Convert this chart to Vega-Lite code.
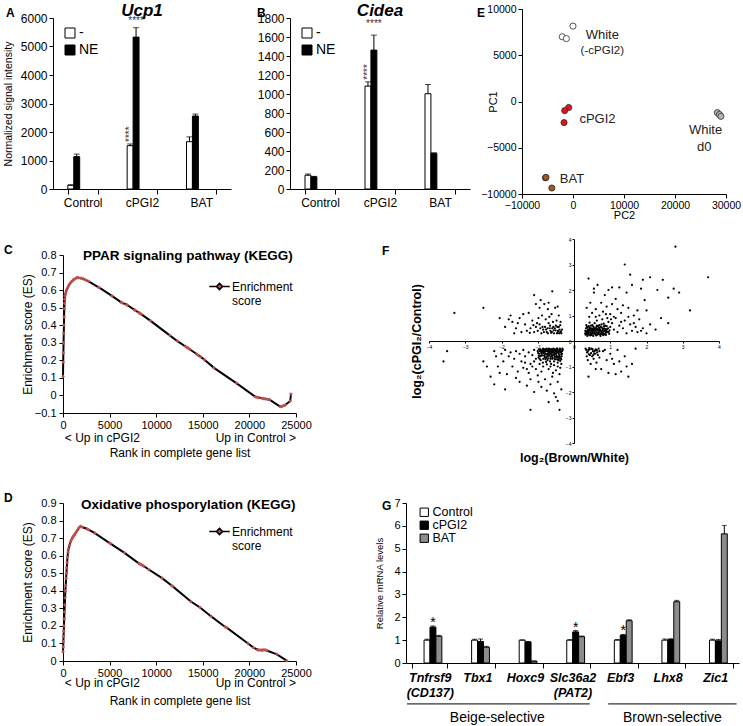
{
"$schema": "https://vega.github.io/schema/vega-lite/v6.json",
"padding": {"left": 3, "top": 1, "right": 2, "bottom": 1},
"config": {
 "font": "Liberation Sans",
 "view": {"stroke": null},
 "axis": {"grid": false, "domainColor": "black", "tickColor": "black", "labelColor": "black", "titleColor": "black", "titleFontWeight": "normal", "labelFontSize": 11, "titleFontSize": 11, "tickSize": 4, "labelPadding": 2, "titlePadding": 4, "labelFlush": false, "labelOverlap": false},
 "legend": {"labelColor": "black"},
 "text": {"color": "black"}
},
"datasets": {
 "a": [
  {"cat": "Control", "trt": "-", "val": 130, "hi": 150},
  {"cat": "Control", "trt": "NE", "val": 1135, "hi": 1225},
  {"cat": "cPGI2", "trt": "-", "val": 1520, "hi": 1580},
  {"cat": "cPGI2", "trt": "NE", "val": 5330, "hi": 5660},
  {"cat": "BAT", "trt": "-", "val": 1660, "hi": 1830},
  {"cat": "BAT", "trt": "NE", "val": 2560, "hi": 2630}],
 "b": [
  {"cat": "Control", "trt": "-", "val": 145, "hi": 158},
  {"cat": "Control", "trt": "NE", "val": 128, "hi": 133},
  {"cat": "cPGI2", "trt": "-", "val": 1083, "hi": 1128},
  {"cat": "cPGI2", "trt": "NE", "val": 1462, "hi": 1620},
  {"cat": "BAT", "trt": "-", "val": 1003, "hi": 1100},
  {"cat": "BAT", "trt": "NE", "val": 375, "hi": 381}],
 "g": [
  {"gene": "Tnfrsf9 (CD137)", "grp": "Control", "val": 1.0, "hi": 1.04},
  {"gene": "Tnfrsf9 (CD137)", "grp": "cPGI2", "val": 1.57, "hi": 1.62},
  {"gene": "Tnfrsf9 (CD137)", "grp": "BAT", "val": 1.17, "hi": 1.21},
  {"gene": "Tbx1", "grp": "Control", "val": 1.0, "hi": 1.04},
  {"gene": "Tbx1", "grp": "cPGI2", "val": 0.94, "hi": 1.05},
  {"gene": "Tbx1", "grp": "BAT", "val": 0.69, "hi": 0.73},
  {"gene": "Hoxc9", "grp": "Control", "val": 1.0, "hi": 1.01},
  {"gene": "Hoxc9", "grp": "cPGI2", "val": 0.92, "hi": 0.94},
  {"gene": "Hoxc9", "grp": "BAT", "val": 0.08, "hi": 0.09},
  {"gene": "Slc36a2 (PAT2)", "grp": "Control", "val": 1.0, "hi": 1.02},
  {"gene": "Slc36a2 (PAT2)", "grp": "cPGI2", "val": 1.36, "hi": 1.42},
  {"gene": "Slc36a2 (PAT2)", "grp": "BAT", "val": 1.15, "hi": 1.18},
  {"gene": "Ebf3", "grp": "Control", "val": 1.0, "hi": 1.03},
  {"gene": "Ebf3", "grp": "cPGI2", "val": 1.22, "hi": 1.25},
  {"gene": "Ebf3", "grp": "BAT", "val": 1.85, "hi": 1.89},
  {"gene": "Lhx8", "grp": "Control", "val": 1.0, "hi": 1.05},
  {"gene": "Lhx8", "grp": "cPGI2", "val": 1.03, "hi": 1.06},
  {"gene": "Lhx8", "grp": "BAT", "val": 2.68, "hi": 2.74},
  {"gene": "Zic1", "grp": "Control", "val": 1.0, "hi": 1.04},
  {"gene": "Zic1", "grp": "cPGI2", "val": 0.97, "hi": 1.03},
  {"gene": "Zic1", "grp": "BAT", "val": 5.65, "hi": 6.02}]
},
"vconcat": [
 {"hconcat": [
 {"hconcat": [
  {"width": 168, "height": 171,
   "layer": [
    {"layer": [
     {"data": {"name": "a"}, "mark": {"type": "bar", "stroke": "black", "strokeWidth": 1},
      "encoding": {
       "x": {"field": "cat", "type": "nominal", "scale": {"domain": ["Control", "cPGI2", "BAT"], "paddingInner": 0.5, "paddingOuter": 0.25, "range": [-10, 168]}, "axis": {"title": null, "labelAngle": 0, "labelFontSize": 12, "tickBand": "extent", "tickSize": 5, "labelPadding": 3}},
       "xOffset": {"field": "trt", "type": "nominal", "scale": {"domain": ["-", "NE"]}},
       "y": {"field": "val", "type": "quantitative", "scale": {"domain": [0, 6000], "nice": false}, "axis": {"values": [0, 1000, 2000, 3000, 4000, 5000, 6000], "format": "d", "offset": 10, "title": "Normalized signal intensity", "titleFontSize": 10.5, "labelFontSize": 12, "titleX": -40, "titleY": 85.5}},
       "fill": {"field": "trt", "type": "nominal", "scale": {"domain": ["-", "NE"], "range": ["white", "black"]}, "legend": {"title": null, "orient": "none", "legendX": 0, "legendY": 8, "symbolType": "square", "symbolSize": 100, "symbolStrokeColor": "black", "symbolStrokeWidth": 1, "labelFontSize": 14, "rowPadding": 3, "labelOffset": 2}}}},
     {"data": {"name": "a"}, "mark": {"type": "rule", "color": "black", "strokeWidth": 1},
      "encoding": {
       "x": {"field": "cat", "type": "nominal", "scale": {"domain": ["Control", "cPGI2", "BAT"], "paddingInner": 0.5, "paddingOuter": 0.25, "range": [-10, 168]}, "axis": {"title": null, "labelAngle": 0, "labelFontSize": 12, "tickBand": "extent", "tickSize": 5, "labelPadding": 3}},
       "xOffset": {"field": "trt", "type": "nominal", "scale": {"domain": ["-", "NE"]}},
       "y": {"field": "val", "type": "quantitative", "scale": {"domain": [0, 6000], "nice": false}, "axis": {"values": [0, 1000, 2000, 3000, 4000, 5000, 6000], "format": "d", "offset": 10, "title": "Normalized signal intensity", "titleFontSize": 10.5, "labelFontSize": 12, "titleX": -40, "titleY": 85.5}},
       "y2": {"field": "hi"}}},
     {"data": {"name": "a"}, "mark": {"type": "tick", "color": "black", "thickness": 1, "size": 6},
      "encoding": {
       "x": {"field": "cat", "type": "nominal", "scale": {"domain": ["Control", "cPGI2", "BAT"], "paddingInner": 0.5, "paddingOuter": 0.25, "range": [-10, 168]}, "axis": {"title": null, "labelAngle": 0, "labelFontSize": 12, "tickBand": "extent", "tickSize": 5, "labelPadding": 3}},
       "xOffset": {"field": "trt", "type": "nominal", "scale": {"domain": ["-", "NE"]}},
       "y": {"field": "hi", "type": "quantitative", "scale": {"domain": [0, 6000], "nice": false}, "axis": {"values": [0, 1000, 2000, 3000, 4000, 5000, 6000], "format": "d", "offset": 10, "title": "Normalized signal intensity", "titleFontSize": 10.5, "labelFontSize": 12, "titleX": -40, "titleY": 85.5}}}},
     {"data": {"values": [{"cat": "cPGI2", "trt": "-", "y": 1650, "t": "****"}]},
      "mark": {"type": "text", "angle": 270, "align": "left", "baseline": "middle", "fontSize": 10, "color": "#333"},
      "encoding": {
       "x": {"field": "cat", "type": "nominal", "scale": {"domain": ["Control", "cPGI2", "BAT"], "paddingInner": 0.5, "paddingOuter": 0.25, "range": [-10, 168]}, "axis": {"title": null, "labelAngle": 0, "labelFontSize": 12, "tickBand": "extent", "tickSize": 5, "labelPadding": 3}},
       "xOffset": {"field": "trt", "type": "nominal", "scale": {"domain": ["-", "NE"]}},
       "y": {"field": "y", "type": "quantitative", "scale": {"domain": [0, 6000], "nice": false}, "axis": {"values": [0, 1000, 2000, 3000, 4000, 5000, 6000], "format": "d", "offset": 10, "title": "Normalized signal intensity", "titleFontSize": 10.5, "labelFontSize": 12, "titleX": -40, "titleY": 85.5}},
       "text": {"field": "t"}}},
     {"data": {"values": [{"cat": "cPGI2", "trt": "NE", "y": 5720, "t": "****"}]},
      "mark": {"type": "text", "align": "center", "baseline": "bottom", "fontSize": 10, "color": "#333"},
      "encoding": {
       "x": {"field": "cat", "type": "nominal", "scale": {"domain": ["Control", "cPGI2", "BAT"], "paddingInner": 0.5, "paddingOuter": 0.25, "range": [-10, 168]}, "axis": {"title": null, "labelAngle": 0, "labelFontSize": 12, "tickBand": "extent", "tickSize": 5, "labelPadding": 3}},
       "xOffset": {"field": "trt", "type": "nominal", "scale": {"domain": ["-", "NE"]}},
       "y": {"field": "y", "type": "quantitative", "scale": {"domain": [0, 6000], "nice": false}, "axis": {"values": [0, 1000, 2000, 3000, 4000, 5000, 6000], "format": "d", "offset": 10, "title": "Normalized signal intensity", "titleFontSize": 10.5, "labelFontSize": 12, "titleX": -40, "titleY": 85.5}},
       "text": {"field": "t"}}},
     {"data": {"values": [{"cat": "cPGI2", "y": 6250, "t": "Ucp1"}]},
      "mark": {"type": "text", "align": "center", "baseline": "middle", "fontSize": 17, "fontWeight": "bold", "fontStyle": "italic"},
      "encoding": {
       "x": {"field": "cat", "type": "nominal", "scale": {"domain": ["Control", "cPGI2", "BAT"], "paddingInner": 0.5, "paddingOuter": 0.25, "range": [-10, 168]}, "axis": {"title": null, "labelAngle": 0, "labelFontSize": 12, "tickBand": "extent", "tickSize": 5, "labelPadding": 3}},
       "y": {"field": "y", "type": "quantitative", "scale": {"domain": [0, 6000], "nice": false}, "axis": {"values": [0, 1000, 2000, 3000, 4000, 5000, 6000], "format": "d", "offset": 10, "title": "Normalized signal intensity", "titleFontSize": 10.5, "labelFontSize": 12, "titleX": -40, "titleY": 85.5}},
       "text": {"field": "t"}}}
    ]},
    {"data": {"values": [{"px": -0.339, "y": 6175, "t": "A"}]},
     "mark": {"type": "text", "align": "left", "baseline": "middle", "fontSize": 12, "fontWeight": "bold"},
     "encoding": {
      "x": {"field": "px", "type": "quantitative", "scale": {"domain": [0, 1], "nice": false}, "axis": null},
      "y": {"field": "y", "type": "quantitative", "scale": {"domain": [0, 6000], "nice": false}, "axis": {"values": [0, 1000, 2000, 3000, 4000, 5000, 6000], "format": "d", "offset": 10, "title": "Normalized signal intensity", "titleFontSize": 10.5, "labelFontSize": 12, "titleX": -40, "titleY": 85.5}},
      "text": {"field": "t"}}}
   ],
   "resolve": {"scale": {"x": "independent"}}},
  {"width": 180, "height": 171,
   "layer": [
    {"layer": [
     {"data": {"name": "b"}, "mark": {"type": "bar", "stroke": "black", "strokeWidth": 1},
      "encoding": {
       "x": {"field": "cat", "type": "nominal", "scale": {"domain": ["Control", "cPGI2", "BAT"], "paddingInner": 0.5, "paddingOuter": 0.25}, "axis": {"title": null, "labelAngle": 0, "labelFontSize": 12, "tickBand": "extent", "tickSize": 5, "labelPadding": 3}},
       "xOffset": {"field": "trt", "type": "nominal", "scale": {"domain": ["-", "NE"]}},
       "y": {"field": "val", "type": "quantitative", "scale": {"domain": [0, 1800], "nice": false}, "axis": {"values": [0, 200, 400, 600, 800, 1000, 1200, 1400, 1600, 1800], "format": "d", "title": null, "labelFontSize": 12}},
       "fill": {"field": "trt", "type": "nominal", "scale": {"domain": ["-", "NE"], "range": ["white", "black"]}, "legend": {"title": null, "orient": "none", "legendX": 10, "legendY": 8, "symbolType": "square", "symbolSize": 100, "symbolStrokeColor": "black", "symbolStrokeWidth": 1, "labelFontSize": 14, "rowPadding": 3, "labelOffset": 2}}}},
     {"data": {"name": "b"}, "mark": {"type": "rule", "color": "black", "strokeWidth": 1},
      "encoding": {
       "x": {"field": "cat", "type": "nominal", "scale": {"domain": ["Control", "cPGI2", "BAT"], "paddingInner": 0.5, "paddingOuter": 0.25}, "axis": {"title": null, "labelAngle": 0, "labelFontSize": 12, "tickBand": "extent", "tickSize": 5, "labelPadding": 3}},
       "xOffset": {"field": "trt", "type": "nominal", "scale": {"domain": ["-", "NE"]}},
       "y": {"field": "val", "type": "quantitative", "scale": {"domain": [0, 1800], "nice": false}, "axis": {"values": [0, 200, 400, 600, 800, 1000, 1200, 1400, 1600, 1800], "format": "d", "title": null, "labelFontSize": 12}},
       "y2": {"field": "hi"}}},
     {"data": {"name": "b"}, "mark": {"type": "tick", "color": "black", "thickness": 1, "size": 6},
      "encoding": {
       "x": {"field": "cat", "type": "nominal", "scale": {"domain": ["Control", "cPGI2", "BAT"], "paddingInner": 0.5, "paddingOuter": 0.25}, "axis": {"title": null, "labelAngle": 0, "labelFontSize": 12, "tickBand": "extent", "tickSize": 5, "labelPadding": 3}},
       "xOffset": {"field": "trt", "type": "nominal", "scale": {"domain": ["-", "NE"]}},
       "y": {"field": "hi", "type": "quantitative", "scale": {"domain": [0, 1800], "nice": false}, "axis": {"values": [0, 200, 400, 600, 800, 1000, 1200, 1400, 1600, 1800], "format": "d", "title": null, "labelFontSize": 12}}}},
     {"data": {"values": [{"cat": "cPGI2", "trt": "-", "y": 1150, "t": "****"}]},
      "mark": {"type": "text", "angle": 270, "align": "left", "baseline": "middle", "fontSize": 10, "color": "#333"},
      "encoding": {
       "x": {"field": "cat", "type": "nominal", "scale": {"domain": ["Control", "cPGI2", "BAT"], "paddingInner": 0.5, "paddingOuter": 0.25}, "axis": {"title": null, "labelAngle": 0, "labelFontSize": 12, "tickBand": "extent", "tickSize": 5, "labelPadding": 3}},
       "xOffset": {"field": "trt", "type": "nominal", "scale": {"domain": ["-", "NE"]}},
       "y": {"field": "y", "type": "quantitative", "scale": {"domain": [0, 1800], "nice": false}, "axis": {"values": [0, 200, 400, 600, 800, 1000, 1200, 1400, 1600, 1800], "format": "d", "title": null, "labelFontSize": 12}},
       "text": {"field": "t"}}},
     {"data": {"values": [{"cat": "cPGI2", "trt": "NE", "y": 1680, "t": "****"}]},
      "mark": {"type": "text", "align": "center", "baseline": "bottom", "fontSize": 10, "color": "#333"},
      "encoding": {
       "x": {"field": "cat", "type": "nominal", "scale": {"domain": ["Control", "cPGI2", "BAT"], "paddingInner": 0.5, "paddingOuter": 0.25}, "axis": {"title": null, "labelAngle": 0, "labelFontSize": 12, "tickBand": "extent", "tickSize": 5, "labelPadding": 3}},
       "xOffset": {"field": "trt", "type": "nominal", "scale": {"domain": ["-", "NE"]}},
       "y": {"field": "y", "type": "quantitative", "scale": {"domain": [0, 1800], "nice": false}, "axis": {"values": [0, 200, 400, 600, 800, 1000, 1200, 1400, 1600, 1800], "format": "d", "title": null, "labelFontSize": 12}},
       "text": {"field": "t"}}},
     {"data": {"values": [{"cat": "cPGI2", "y": 1875, "t": "Cidea"}]},
      "mark": {"type": "text", "align": "center", "baseline": "middle", "fontSize": 17, "fontWeight": "bold", "fontStyle": "italic"},
      "encoding": {
       "x": {"field": "cat", "type": "nominal", "scale": {"domain": ["Control", "cPGI2", "BAT"], "paddingInner": 0.5, "paddingOuter": 0.25}, "axis": {"title": null, "labelAngle": 0, "labelFontSize": 12, "tickBand": "extent", "tickSize": 5, "labelPadding": 3}},
       "y": {"field": "y", "type": "quantitative", "scale": {"domain": [0, 1800], "nice": false}, "axis": {"values": [0, 200, 400, 600, 800, 1000, 1200, 1400, 1600, 1800], "format": "d", "title": null, "labelFontSize": 12}},
       "text": {"field": "t"}}}
    ]},
    {"data": {"values": [{"px": -0.183, "y": 1853, "t": "B"}]},
     "mark": {"type": "text", "align": "left", "baseline": "middle", "fontSize": 12, "fontWeight": "bold"},
     "encoding": {
      "x": {"field": "px", "type": "quantitative", "scale": {"domain": [0, 1], "nice": false}, "axis": null},
      "y": {"field": "y", "type": "quantitative", "scale": {"domain": [0, 1800], "nice": false}, "axis": {"values": [0, 200, 400, 600, 800, 1000, 1200, 1400, 1600, 1800], "format": "d", "title": null, "labelFontSize": 12}},
      "text": {"field": "t"}}}
   ],
   "resolve": {"scale": {"x": "independent"}}}
 ], "spacing": 16, "resolve": {"scale": {"fill": "independent"}}},
  {"width": 204, "height": 176,
   "encoding": {
    "x": {"field": "pc2", "type": "quantitative", "scale": {"domain": [-10000, 30000], "nice": false}, "axis": {"values": [-10000, 0, 10000, 20000, 30000], "format": "d", "title": "PC2", "titleY": 15, "labelFontSize": 10.5, "titleFontSize": 11}},
    "y": {"field": "pc1", "type": "quantitative", "scale": {"domain": [-10000, 10000], "nice": false, "range": [176, -9]}, "axis": {"values": [-10000, -5000, 0, 5000, 10000], "format": "d", "title": "PC1", "titleX": -24, "titleY": 83.5, "labelFontSize": 10.5, "titleFontSize": 11}}
   },
   "layer": [
    {"data": {"values": [
      {"g": "white", "pc2": -2100, "pc1": 7000}, {"g": "white", "pc2": -1300, "pc1": 6800}, {"g": "white", "pc2": 0, "pc1": 8150},
      {"g": "red", "pc2": -850, "pc1": -650}, {"g": "red", "pc2": -1630, "pc1": -980}, {"g": "red", "pc2": -1760, "pc1": -2280},
      {"g": "gray", "pc2": 28300, "pc1": -1200}, {"g": "gray", "pc2": 28700, "pc1": -1400}, {"g": "gray", "pc2": 29000, "pc1": -1600},
      {"g": "brown", "pc2": -5400, "pc1": -8250}, {"g": "brown", "pc2": -5300, "pc1": -8200}, {"g": "brown", "pc2": -4150, "pc1": -9350}]},
     "mark": {"type": "point", "filled": true, "size": 38, "stroke": "#2b2b2b", "strokeWidth": 0.8, "opacity": 1},
     "encoding": {
      "fill": {"field": "g", "type": "nominal", "scale": {"domain": ["white", "red", "gray", "brown"], "range": ["#ffffff", "#e3141c", "#b5b5b5", "#a0561f"]}, "legend": null}}},
    {"data": {"values": [
      {"pc2": 5750, "pc1": 7220, "t": "White"}, {"pc2": 4800, "pc1": -1890, "t": "cPGI2"},
      {"pc2": 25980, "pc1": -3050, "t": "White"}, {"pc2": 25750, "pc1": -4870, "t": "d0"},
      {"pc2": -200, "pc1": -8380, "t": "BAT"}]},
     "mark": {"type": "text", "align": "center", "baseline": "middle", "fontSize": 13, "color": "#222"},
     "encoding": {"text": {"field": "t"}}},
    {"data": {"values": [{"pc2": 5750, "pc1": 5420, "t": "(-cPGI2)"}]},
     "mark": {"type": "text", "align": "center", "baseline": "middle", "fontSize": 11.5, "color": "#222"},
     "encoding": {"text": {"field": "t"}}},
    {"data": {"values": [{"pc2": -18820, "pc1": 9570, "t": "E"}]},
     "mark": {"type": "text", "align": "left", "baseline": "middle", "fontSize": 12, "fontWeight": "bold"},
     "encoding": {"text": {"field": "t"}}}
   ]}
 ], "spacing": 7, "resolve": {"scale": {"fill": "independent"}}},
 {"vconcat": [
  {"hconcat": [
   {"width": 233, "height": 158,
    "encoding": {
     "x": {"field": "rank", "type": "quantitative", "scale": {"domain": [0, 25000], "nice": false}, "axis": {"values": [0, 5000, 10000, 15000, 20000, 25000], "format": "d", "title": "Rank in complete gene list", "titleFontSize": 12, "titleY": 34, "labelFontSize": 11}},
     "y": {"field": "es", "type": "quantitative", "scale": {"domain": [-0.1, 0.8], "nice": false, "zero": false}, "axis": {"values": [-0.1, 0, 0.1, 0.2, 0.3, 0.4, 0.5, 0.6, 0.7, 0.8], "format": ".1~f", "title": "Enrichment score (ES)", "titleFontSize": 12, "labelFontSize": 11, "labelPadding": 3, "titleX": -29, "titleY": 79}}
    },
    "layer": [
     {"data": {"values": [{"rank":0},{"rank":20},{"rank":40},{"rank":60},{"rank":80},{"rank":100},{"rank":120},{"rank":140},{"rank":160},{"rank":180},{"rank":220},{"rank":300},{"rank":400},{"rank":540},{"rank":680},{"rank":860},{"rank":1040},{"rank":1150},{"rank":1330},{"rank":1500},{"rank":1680},{"rank":1930},{"rank":2180},{"rank":2460},{"rank":2750},{"rank":3820},{"rank":3900},{"rank":5250},{"rank":6250},{"rank":6350},{"rank":6820},{"rank":6890},{"rank":7680},{"rank":7750},{"rank":8140},{"rank":8250},{"rank":8390},{"rank":9400},{"rank":11450},{"rank":12280},{"rank":13140},{"rank":13320},{"rank":13430},{"rank":13600},{"rank":14320},{"rank":14460},{"rank":14750},{"rank":15180},{"rank":16200},{"rank":18600},{"rank":20640},{"rank":20820},{"rank":21000},{"rank":21350},{"rank":21530},{"rank":21710},{"rank":21960},{"rank":22170},{"rank":23500},{"rank":23670},{"rank":23850},{"rank":24460}]},
      "mark": {"type": "rule", "color": "#3a3a3a", "strokeWidth": 1},
      "encoding": {"y": {"datum": -0.1, "type": "quantitative", "scale": {"domain": [-0.1, 0.8], "nice": false, "zero": false}}, "y2": {"datum": 0.1}}},
     {"data": {"values": [{"rank":0,"es":0.109},{"rank":20,"es":0.19},{"rank":40,"es":0.242},{"rank":60,"es":0.3},{"rank":80,"es":0.353},{"rank":100,"es":0.4},{"rank":120,"es":0.448},{"rank":140,"es":0.494},{"rank":160,"es":0.525},{"rank":180,"es":0.548},{"rank":220,"es":0.567},{"rank":300,"es":0.586},{"rank":400,"es":0.603},{"rank":540,"es":0.618},{"rank":680,"es":0.632},{"rank":860,"es":0.645},{"rank":1040,"es":0.655},{"rank":1150,"es":0.66},{"rank":1330,"es":0.666},{"rank":1500,"es":0.671},{"rank":1680,"es":0.67},{"rank":1930,"es":0.668},{"rank":2180,"es":0.664},{"rank":2460,"es":0.657},{"rank":2750,"es":0.65},{"rank":3820,"es":0.616},{"rank":3900,"es":0.614},{"rank":5250,"es":0.567},{"rank":6250,"es":0.53},{"rank":6350,"es":0.527},{"rank":6820,"es":0.517},{"rank":6890,"es":0.515},{"rank":7680,"es":0.487},{"rank":7750,"es":0.485},{"rank":8140,"es":0.472},{"rank":8250,"es":0.468},{"rank":8390,"es":0.463},{"rank":9400,"es":0.425},{"rank":11450,"es":0.342},{"rank":12280,"es":0.309},{"rank":13140,"es":0.279},{"rank":13320,"es":0.273},{"rank":13430,"es":0.269},{"rank":13600,"es":0.263},{"rank":14320,"es":0.236},{"rank":14460,"es":0.231},{"rank":14750,"es":0.221},{"rank":15180,"es":0.203},{"rank":16200,"es":0.157},{"rank":18600,"es":0.07},{"rank":20640,"es":-0.008},{"rank":20820,"es":-0.01},{"rank":21000,"es":-0.012},{"rank":21350,"es":-0.016},{"rank":21530,"es":-0.018},{"rank":21710,"es":-0.02},{"rank":21960,"es":-0.022},{"rank":22170,"es":-0.024},{"rank":23300,"es":-0.064},{"rank":23500,"es":-0.062},{"rank":23670,"es":-0.058},{"rank":23850,"es":-0.054},{"rank":24380,"es":-0.032},{"rank":24460,"es":0.008}]},
      "layer": [
       {"mark": {"type": "line", "color": "black", "strokeWidth": 2}},
       {"mark": {"type": "point", "shape": "diamond", "filled": true, "size": 14, "opacity": 1},
        "encoding": {"fill": {"datum": "Enrichment score", "type": "nominal", "scale": {"range": ["#c0504d"]}, "legend": {"title": null, "orient": "none", "legendX": 145, "legendY": 20, "symbolType": "M-1,0H-0.3L0,-0.3L0.3,0L0,0.3L-0.3,0ZM0.3,0H1", "symbolSize": 420, "symbolStrokeColor": "black", "symbolStrokeWidth": 1.6, "symbolFillColor": "#c0504d", "labelFontSize": 12, "labelExpr": "['Enrichment', 'score']", "labelOffset": 1}}}}
      ]},
     {"data": {"values": [{"rank": 13400, "es": 0.795, "t": "PPAR signaling pathway (KEGG)"}]},
      "mark": {"type": "text", "align": "center", "baseline": "middle", "fontSize": 13.5, "fontWeight": "bold"},
      "encoding": {"y": {"field": "es", "type": "quantitative", "scale": {"domain": [-0.1, 0.8], "nice": false, "zero": false}}, "text": {"field": "t"}}},
     {"data": {"values": [{"rank": 200, "es": -0.24, "t": "< Up in cPGI2"}]},
      "mark": {"type": "text", "align": "left", "baseline": "middle", "fontSize": 12},
      "encoding": {"y": {"field": "es", "type": "quantitative", "scale": {"domain": [-0.1, 0.8], "nice": false, "zero": false}}, "text": {"field": "t"}}},
     {"data": {"values": [{"rank": 25000, "es": -0.24, "t": "Up in Control >"}]},
      "mark": {"type": "text", "align": "right", "baseline": "middle", "fontSize": 12},
      "encoding": {"y": {"field": "es", "type": "quantitative", "scale": {"domain": [-0.1, 0.8], "nice": false, "zero": false}}, "text": {"field": "t"}}},
     {"data": {"values": [{"rank": -6330, "es": 0.828, "t": "C"}]},
      "mark": {"type": "text", "align": "left", "baseline": "middle", "fontSize": 12, "fontWeight": "bold"},
      "encoding": {"y": {"field": "es", "type": "quantitative", "scale": {"domain": [-0.1, 0.8], "nice": false, "zero": false}}, "text": {"field": "t"}}}
    ]},
   {"width": 290, "height": 188,
    "encoding": {
     "x": {"field": "bw", "type": "quantitative", "scale": {"domain": [-4, 4], "nice": false}, "axis": {"values": [-4, -3, -2, -1, 0, 1, 2, 3, 4], "offset": -102, "title": "log₂(Brown/White)", "titleX": 145, "titleY": 110, "titleFontSize": 12.5, "titleFontWeight": "bold", "labelFontSize": 5, "tickSize": 2, "labelPadding": 1}},
     "y": {"field": "cc", "type": "quantitative", "scale": {"domain": [-4, 4], "nice": false, "range": [188, -16]}, "axis": {"values": [-4, -3, -2, -1, 0, 1, 2, 3, 4], "offset": -145, "title": "log₂(cPGI₂/Control)", "titleX": -151, "titleY": 86, "titleFontSize": 12.5, "titleFontWeight": "bold", "labelFontSize": 5, "tickSize": 2, "labelPadding": 1}}
    },
    "layer": [
     {"data": {"values": [
{"bw":0.32,"cc":0.25},{"bw":0.35,"cc":0.38},{"bw":0.38,"cc":0.52},{"bw":0.4,"cc":0.3},{"bw":0.42,"cc":0.45},{"bw":0.45,"cc":0.22},{"bw":0.47,"cc":0.6},{"bw":0.5,"cc":0.35},{"bw":0.52,"cc":0.48},{"bw":0.55,"cc":0.28},{"bw":0.57,"cc":0.7},{"bw":0.6,"cc":0.4},{"bw":0.62,"cc":0.55},{"bw":0.65,"cc":0.25},{"bw":0.67,"cc":0.33},{"bw":0.7,"cc":0.62},{"bw":0.72,"cc":0.45},{"bw":0.75,"cc":0.3},{"bw":0.77,"cc":0.52},{"bw":0.8,"cc":0.38},{"bw":0.82,"cc":0.68},{"bw":0.85,"cc":0.27},{"bw":0.87,"cc":0.47},{"bw":0.9,"cc":0.58},{"bw":0.93,"cc":0.35},{"bw":0.95,"cc":0.75},{"bw":0.98,"cc":0.42},{"bw":1.0,"cc":0.55},{"bw":0.34,"cc":0.62},{"bw":0.37,"cc":0.2},{"bw":0.43,"cc":0.72},{"bw":0.48,"cc":0.42},{"bw":0.53,"cc":0.2},{"bw":0.58,"cc":0.5},{"bw":0.63,"cc":0.8},{"bw":0.68,"cc":0.43},{"bw":0.73,"cc":0.2},{"bw":0.78,"cc":0.85},{"bw":0.83,"cc":0.5},{"bw":0.88,"cc":0.32},{"bw":0.92,"cc":0.9},{"bw":0.97,"cc":0.28},{"bw":0.31,"cc":0.4},{"bw":0.36,"cc":0.32},{"bw":0.41,"cc":0.58},{"bw":0.46,"cc":0.27},{"bw":0.51,"cc":0.62},{"bw":0.56,"cc":0.37},{"bw":0.61,"cc":0.22},{"bw":0.66,"cc":0.58},{"bw":0.71,"cc":0.36},{"bw":0.76,"cc":0.65},{"bw":0.81,"cc":0.23},{"bw":0.86,"cc":0.6},{"bw":0.44,"cc":0.35},{"bw":0.54,"cc":0.44},{"bw":0.64,"cc":0.48},{"bw":0.74,"cc":0.4},{"bw":0.84,"cc":0.42},{"bw":0.39,"cc":0.44},
{"bw":0.33,"cc":0.5},{"bw":0.43,"cc":0.52},{"bw":0.49,"cc":0.3},{"bw":0.59,"cc":0.3},{"bw":0.69,"cc":0.52},{"bw":0.79,"cc":0.3},{"bw":0.89,"cc":0.4},{"bw":0.94,"cc":0.5},{"bw":0.57,"cc":0.45},{"bw":0.67,"cc":0.4},{"bw":0.47,"cc":0.5},{"bw":0.37,"cc":0.42},
{"bw":0.31,"cc":0.3},{"bw":0.34,"cc":0.27},{"bw":0.36,"cc":0.55},{"bw":0.39,"cc":0.36},{"bw":0.41,"cc":0.25},{"bw":0.44,"cc":0.5},{"bw":0.46,"cc":0.32},{"bw":0.49,"cc":0.24},{"bw":0.51,"cc":0.4},{"bw":0.53,"cc":0.56},{"bw":0.56,"cc":0.3},{"bw":0.58,"cc":0.42},{"bw":0.6,"cc":0.26},{"bw":0.62,"cc":0.34},{"bw":0.63,"cc":0.6},{"bw":0.65,"cc":0.44},{"bw":0.68,"cc":0.28},{"bw":0.7,"cc":0.5},{"bw":0.72,"cc":0.26},{"bw":0.74,"cc":0.55},{"bw":0.76,"cc":0.36},{"bw":0.79,"cc":0.44},{"bw":0.81,"cc":0.3},{"bw":0.83,"cc":0.58},{"bw":0.86,"cc":0.38},{"bw":0.88,"cc":0.24},{"bw":0.91,"cc":0.46},{"bw":0.96,"cc":0.36},{"bw":0.38,"cc":0.28},{"bw":0.45,"cc":0.42},{"bw":0.52,"cc":0.32},{"bw":0.55,"cc":0.52},{"bw":0.61,"cc":0.46},{"bw":0.66,"cc":0.3},{"bw":0.71,"cc":0.42},{"bw":0.78,"cc":0.26},{"bw":0.8,"cc":0.48},{"bw":0.33,"cc":0.35},{"bw":0.4,"cc":0.4},{"bw":0.5,"cc":0.45},
{"bw":1.05,"cc":0.7},{"bw":1.1,"cc":0.45},{"bw":1.15,"cc":0.9},{"bw":1.2,"cc":0.35},{"bw":1.25,"cc":0.6},{"bw":1.3,"cc":1.1},{"bw":1.35,"cc":0.5},{"bw":1.4,"cc":0.8},{"bw":1.45,"cc":0.3},{"bw":1.5,"cc":1.3},{"bw":1.55,"cc":0.65},{"bw":1.6,"cc":0.4},{"bw":1.65,"cc":1.0},{"bw":1.7,"cc":0.55},{"bw":1.75,"cc":0.35},{"bw":1.8,"cc":0.85},{"bw":1.9,"cc":0.5},{"bw":1.95,"cc":1.6},{"bw":2.0,"cc":0.3},{"bw":2.1,"cc":0.65},{"bw":2.25,"cc":0.45},{"bw":2.4,"cc":0.9},{"bw":0.5,"cc":1.1},{"bw":0.6,"cc":1.25},{"bw":0.7,"cc":1.0},{"bw":0.75,"cc":1.5},{"bw":0.8,"cc":1.15},{"bw":0.9,"cc":1.35},{"bw":1.0,"cc":1.05},{"bw":0.45,"cc":1.5},{"bw":0.55,"cc":1.9},{"bw":0.65,"cc":2.2},{"bw":0.4,"cc":2.45},{"bw":0.85,"cc":1.8},{"bw":1.05,"cc":1.45},{"bw":1.15,"cc":1.65},{"bw":1.25,"cc":2.1},{"bw":1.35,"cc":1.4},{"bw":1.45,"cc":1.9},{"bw":1.6,"cc":2.2},{"bw":1.75,"cc":1.2},{"bw":1.85,"cc":2.05},{"bw":0.35,"cc":1.3},{"bw":0.95,"cc":2.0},{"bw":1.1,"cc":0.95},{"bw":1.2,"cc":1.25},{"bw":0.42,"cc":0.95},{"bw":0.6,"cc":0.95},{"bw":0.88,"cc":1.05},{"bw":1.02,"cc":0.85},{"bw":1.3,"cc":0.75},{"bw":1.5,"cc":0.95},{"bw":1.65,"cc":0.7},
{"bw":2.8,"cc":3.7},{"bw":3.7,"cc":2.5},{"bw":1.4,"cc":3.0},{"bw":3.2,"cc":1.2},{"bw":2.6,"cc":0.7},{"bw":2.3,"cc":2.0},{"bw":2.6,"cc":1.7},{"bw":2.45,"cc":2.4},{"bw":2.1,"cc":2.5},{"bw":2.75,"cc":2.05},{"bw":2.9,"cc":1.9},{"bw":1.9,"cc":2.4},{"bw":1.55,"cc":2.6},{"bw":1.05,"cc":2.1},{"bw":0.55,"cc":2.05},{"bw":2.0,"cc":1.2},{"bw":1.85,"cc":0.4},
{"bw":-0.35,"cc":0.3},{"bw":-0.4,"cc":0.45},{"bw":-0.45,"cc":0.35},{"bw":-0.5,"cc":0.6},{"bw":-0.55,"cc":0.3},{"bw":-0.6,"cc":0.5},{"bw":-0.65,"cc":0.4},{"bw":-0.7,"cc":0.7},{"bw":-0.75,"cc":0.35},{"bw":-0.8,"cc":0.55},{"bw":-0.85,"cc":0.45},{"bw":-0.9,"cc":0.3},{"bw":-0.95,"cc":0.65},{"bw":-1.0,"cc":0.4},{"bw":-1.05,"cc":0.55},{"bw":-1.1,"cc":0.35},{"bw":-1.15,"cc":0.8},{"bw":-1.2,"cc":0.5},{"bw":-1.3,"cc":0.4},{"bw":-1.35,"cc":0.65},{"bw":-1.45,"cc":0.35},{"bw":-1.5,"cc":0.9},{"bw":-1.6,"cc":0.5},{"bw":-1.7,"cc":0.75},{"bw":-1.75,"cc":1.0},{"bw":-0.38,"cc":0.62},{"bw":-0.48,"cc":0.8},{"bw":-0.58,"cc":0.75},{"bw":-0.68,"cc":0.95},{"bw":-0.78,"cc":0.85},{"bw":-0.88,"cc":1.0},{"bw":-0.98,"cc":0.9},{"bw":-0.42,"cc":1.0},{"bw":-0.52,"cc":1.3},{"bw":-0.62,"cc":1.05},{"bw":-0.72,"cc":1.25},{"bw":-0.82,"cc":1.45},{"bw":-0.92,"cc":1.6},{"bw":-1.1,"cc":1.8},{"bw":-1.25,"cc":1.1},{"bw":-1.4,"cc":1.05},{"bw":-1.55,"cc":0.7},{"bw":-1.65,"cc":0.3},{"bw":-1.8,"cc":0.85},{"bw":-1.9,"cc":0.55},{"bw":-0.33,"cc":0.45},{"bw":-0.44,"cc":0.4},{"bw":-0.53,"cc":0.5},{"bw":-0.63,"cc":0.32},{"bw":-0.73,"cc":0.5},{"bw":-0.83,"cc":0.35},{"bw":-0.93,"cc":0.5},{"bw":-0.37,"cc":0.75},{"bw":-1.02,"cc":0.7},{"bw":-1.12,"cc":0.62},{"bw":-1.22,"cc":0.32},{"bw":-0.95,"cc":1.3},{"bw":-0.7,"cc":1.5},{"bw":-0.45,"cc":1.35},{"bw":-0.36,"cc":0.38},{"bw":-0.46,"cc":0.55},{"bw":-0.56,"cc":0.42},{"bw":-0.66,"cc":0.6},{"bw":-0.41,"cc":0.3},
{"bw":-0.38,"cc":0.35},{"bw":-0.42,"cc":0.55},{"bw":-0.47,"cc":0.3},{"bw":-0.51,"cc":0.42},{"bw":-0.57,"cc":0.55},{"bw":-0.61,"cc":0.35},{"bw":-0.67,"cc":0.5},{"bw":-0.72,"cc":0.3},{"bw":-0.77,"cc":0.45},{"bw":-0.87,"cc":0.55},
{"bw":-3.3,"cc":1.1},{"bw":-2.5,"cc":1.3},{"bw":-2.05,"cc":0.9},{"bw":-0.6,"cc":1.95},{"bw":-1.05,"cc":1.45},
{"bw":-0.32,"cc":-0.3},{"bw":-0.36,"cc":-0.45},{"bw":-0.4,"cc":-0.35},{"bw":-0.44,"cc":-0.6},{"bw":-0.48,"cc":-0.3},{"bw":-0.52,"cc":-0.5},{"bw":-0.56,"cc":-0.4},{"bw":-0.6,"cc":-0.7},{"bw":-0.64,"cc":-0.33},{"bw":-0.68,"cc":-0.55},{"bw":-0.72,"cc":-0.42},{"bw":-0.76,"cc":-0.3},{"bw":-0.8,"cc":-0.65},{"bw":-0.84,"cc":-0.48},{"bw":-0.88,"cc":-0.36},{"bw":-0.92,"cc":-0.75},{"bw":-0.96,"cc":-0.5},{"bw":-1.0,"cc":-0.4},{"bw":-0.34,"cc":-0.6},{"bw":-0.38,"cc":-0.78},{"bw":-0.42,"cc":-0.5},{"bw":-0.46,"cc":-0.42},{"bw":-0.5,"cc":-0.72},{"bw":-0.54,"cc":-0.32},{"bw":-0.58,"cc":-0.55},{"bw":-0.62,"cc":-0.47},{"bw":-0.66,"cc":-0.8},{"bw":-0.7,"cc":-0.36},{"bw":-0.74,"cc":-0.6},{"bw":-0.78,"cc":-0.5},{"bw":-0.82,"cc":-0.33},{"bw":-0.86,"cc":-0.85},{"bw":-0.9,"cc":-0.57},{"bw":-0.94,"cc":-0.4},{"bw":-0.98,"cc":-0.65},{"bw":-0.33,"cc":-0.4},{"bw":-0.37,"cc":-0.33},{"bw":-0.41,"cc":-0.7},{"bw":-0.45,"cc":-0.35},{"bw":-0.49,"cc":-0.55},{"bw":-0.53,"cc":-0.62},{"bw":-0.57,"cc":-0.3},{"bw":-0.61,"cc":-0.38},{"bw":-0.65,"cc":-0.62},{"bw":-0.69,"cc":-0.46},{"bw":-0.73,"cc":-0.75},{"bw":-0.77,"cc":-0.4},{"bw":-0.81,"cc":-0.55},{"bw":-0.85,"cc":-0.3},{"bw":-0.89,"cc":-0.45},{"bw":-0.93,"cc":-0.6},{"bw":-0.97,"cc":-0.33},{"bw":-0.35,"cc":-0.9},{"bw":-0.45,"cc":-0.85},{"bw":-0.55,"cc":-0.95},{"bw":-0.63,"cc":-0.9},{"bw":-0.75,"cc":-0.92},{"bw":-0.95,"cc":-0.9},{"bw":-0.4,"cc":-0.55},{"bw":-0.6,"cc":-0.58},{"bw":-0.35,"cc":-0.52},{"bw":-0.47,"cc":-0.65},{"bw":-0.59,"cc":-0.45},{"bw":-0.71,"cc":-0.68},{"bw":-0.83,"cc":-0.42},{"bw":-0.43,"cc":-0.45},{"bw":-0.55,"cc":-0.55},{"bw":-0.67,"cc":-0.37},{"bw":-0.79,"cc":-0.72},{"bw":-0.51,"cc":-0.4},{"bw":-0.63,"cc":-0.52},{"bw":-0.39,"cc":-0.62},
{"bw":-0.31,"cc":-0.35},{"bw":-0.33,"cc":-0.5},{"bw":-0.36,"cc":-0.68},{"bw":-0.39,"cc":-0.3},{"bw":-0.41,"cc":-0.42},{"bw":-0.43,"cc":-0.75},{"bw":-0.46,"cc":-0.3},{"bw":-0.48,"cc":-0.48},{"bw":-0.5,"cc":-0.62},{"bw":-0.52,"cc":-0.36},{"bw":-0.55,"cc":-0.8},{"bw":-0.57,"cc":-0.46},{"bw":-0.59,"cc":-0.66},{"bw":-0.61,"cc":-0.32},{"bw":-0.63,"cc":-0.42},{"bw":-0.65,"cc":-0.7},{"bw":-0.67,"cc":-0.5},{"bw":-0.69,"cc":-0.3},{"bw":-0.71,"cc":-0.58},{"bw":-0.73,"cc":-0.38},{"bw":-0.75,"cc":-0.52},{"bw":-0.77,"cc":-0.82},{"bw":-0.79,"cc":-0.34},{"bw":-0.81,"cc":-0.62},{"bw":-0.83,"cc":-0.46},{"bw":-0.85,"cc":-0.7},{"bw":-0.87,"cc":-0.4},{"bw":-0.9,"cc":-0.5},{"bw":-0.92,"cc":-0.34},{"bw":-0.95,"cc":-0.7},{"bw":-0.99,"cc":-0.48},{"bw":-0.38,"cc":-0.4},{"bw":-0.42,"cc":-0.62},{"bw":-0.47,"cc":-0.38},{"bw":-0.53,"cc":-0.48},{"bw":-0.58,"cc":-0.38},{"bw":-0.62,"cc":-0.6},{"bw":-0.68,"cc":-0.4},{"bw":-0.72,"cc":-0.5},{"bw":-0.76,"cc":-0.66},{"bw":-0.8,"cc":-0.42},{"bw":-0.86,"cc":-0.56},{"bw":-0.91,"cc":-0.42},{"bw":-0.97,"cc":-0.58},{"bw":-0.45,"cc":-0.72},{"bw":-0.35,"cc":-0.72},{"bw":-0.54,"cc":-0.7},{"bw":-0.66,"cc":-0.45},{"bw":-0.74,"cc":-0.33},{"bw":-0.84,"cc":-0.36},
{"bw":-1.05,"cc":-0.7},{"bw":-1.1,"cc":-0.35},{"bw":-1.15,"cc":-0.55},{"bw":-1.2,"cc":-0.9},{"bw":-1.25,"cc":-0.45},{"bw":-1.3,"cc":-1.1},{"bw":-1.35,"cc":-0.6},{"bw":-1.4,"cc":-0.35},{"bw":-1.45,"cc":-0.8},{"bw":-1.5,"cc":-0.5},{"bw":-1.55,"cc":-1.2},{"bw":-1.6,"cc":-0.4},{"bw":-1.65,"cc":-0.7},{"bw":-1.7,"cc":-1.0},{"bw":-1.75,"cc":-0.45},{"bw":-1.8,"cc":-0.6},{"bw":-1.9,"cc":-0.35},{"bw":-1.95,"cc":-0.8},{"bw":-2.0,"cc":-0.5},{"bw":-2.1,"cc":-1.0},{"bw":-2.15,"cc":-0.6},{"bw":-2.2,"cc":-0.4},{"bw":-1.05,"cc":-1.1},{"bw":-0.9,"cc":-1.2},{"bw":-0.7,"cc":-1.1},{"bw":-0.5,"cc":-1.15},{"bw":-0.4,"cc":-1.3},{"bw":-0.6,"cc":-1.4},{"bw":-0.8,"cc":-1.5},{"bw":-1.0,"cc":-1.35},{"bw":-1.2,"cc":-1.5},{"bw":-0.45,"cc":-1.6},{"bw":-0.65,"cc":-1.7},{"bw":-0.9,"cc":-1.8},{"bw":-1.3,"cc":-1.75},{"bw":-0.35,"cc":-1.9},{"bw":-0.55,"cc":-2.05},{"bw":-0.75,"cc":-1.95},{"bw":-1.1,"cc":-2.0},{"bw":-1.5,"cc":-1.6},{"bw":-1.85,"cc":-1.3},{"bw":-1.6,"cc":-1.45},{"bw":-2.05,"cc":-1.25},{"bw":-0.85,"cc":-1.0},{"bw":-1.1,"cc":-0.8},{"bw":-1.25,"cc":-1.25},{"bw":-0.38,"cc":-1.05},{"bw":-0.58,"cc":-1.25},{"bw":-0.98,"cc":-1.6},{"bw":-1.4,"cc":-1.05},{"bw":-0.65,"cc":-1.0},{"bw":-1.15,"cc":-1.0},{"bw":-1.35,"cc":-0.85},{"bw":-0.45,"cc":-1.0},
{"bw":-3.6,"cc":-0.8},{"bw":-3.5,"cc":-0.4},{"bw":-2.5,"cc":-0.8},{"bw":-2.2,"cc":-1.7},{"bw":-1.2,"cc":-2.7},{"bw":-0.7,"cc":-2.4},{"bw":-0.5,"cc":-2.2},{"bw":-0.4,"cc":-2.7},{"bw":-1.9,"cc":-1.9},{"bw":-2.4,"cc":-1.0},{"bw":-2.3,"cc":-1.4},{"bw":-0.45,"cc":-2.35},
{"bw":0.32,"cc":-0.3},{"bw":0.36,"cc":-0.45},{"bw":0.4,"cc":-0.35},{"bw":0.44,"cc":-0.55},{"bw":0.48,"cc":-0.3},{"bw":0.52,"cc":-0.4},{"bw":0.56,"cc":-0.5},{"bw":0.6,"cc":-0.33},{"bw":0.64,"cc":-0.45},{"bw":0.68,"cc":-0.3},{"bw":0.35,"cc":-0.6},{"bw":0.42,"cc":-0.28},{"bw":0.5,"cc":-0.6},{"bw":0.58,"cc":-0.38},{"bw":0.66,"cc":-0.55},{"bw":0.38,"cc":-0.75},{"bw":0.46,"cc":-0.9},{"bw":0.54,"cc":-0.7},{"bw":0.62,"cc":-0.85},{"bw":0.7,"cc":-0.65},
{"bw":0.34,"cc":-0.35},{"bw":0.38,"cc":-0.42},{"bw":0.43,"cc":-0.33},{"bw":0.47,"cc":-0.48},{"bw":0.51,"cc":-0.32},{"bw":0.55,"cc":-0.42},{"bw":0.59,"cc":-0.5},{"bw":0.63,"cc":-0.36},{"bw":0.41,"cc":-0.52},{"bw":0.53,"cc":-0.55},
{"bw":0.8,"cc":-0.4},{"bw":0.9,"cc":-0.75},{"bw":1.0,"cc":-0.5},{"bw":1.1,"cc":-0.9},{"bw":1.2,"cc":-0.35},{"bw":1.3,"cc":-1.2},{"bw":1.4,"cc":-0.6},{"bw":1.5,"cc":-1.4},{"bw":1.6,"cc":-0.9},{"bw":0.75,"cc":-1.1},{"bw":0.85,"cc":-0.35},{"bw":0.95,"cc":-1.25},{"bw":1.05,"cc":-0.7},{"bw":1.15,"cc":-1.3},{"bw":0.4,"cc":-1.4},{"bw":0.6,"cc":-1.1},{"bw":0.7,"cc":-0.4},{"bw":1.25,"cc":-0.8},{"bw":1.7,"cc":-0.3},{"bw":1.45,"cc":-1.0}
      ]},
      "mark": {"type": "point", "filled": true, "size": 5, "color": "black", "opacity": 1}},
     {"data": {"values": [{"bw": -5.3, "cc": 3.53, "t": "F"}]},
      "mark": {"type": "text", "align": "left", "baseline": "middle", "fontSize": 12, "fontWeight": "bold"},
      "encoding": {"text": {"field": "t"}}}
    ]}
  ], "spacing": 69},
  {"hconcat": [
   {"width": 233, "height": 158,
    "encoding": {
     "x": {"field": "rank", "type": "quantitative", "scale": {"domain": [0, 25000], "nice": false}, "axis": {"values": [0, 5000, 10000, 15000, 20000, 25000], "format": "d", "title": "Rank in complete gene list", "titleFontSize": 12, "titleY": 34, "labelFontSize": 11}},
     "y": {"field": "es", "type": "quantitative", "scale": {"domain": [0, 0.9], "nice": false}, "axis": {"values": [0, 0.1, 0.2, 0.3, 0.4, 0.5, 0.6, 0.7, 0.8, 0.9], "format": ".1~f", "title": "Enrichment score (ES)", "titleFontSize": 12, "labelFontSize": 11, "labelPadding": 3, "titleX": -29, "titleY": 79}}
    },
    "layer": [
     {"data": {"values": [{"rank":0},{"rank":20},{"rank":40},{"rank":60},{"rank":80},{"rank":100},{"rank":130},{"rank":160},{"rank":190},{"rank":220},{"rank":250},{"rank":290},{"rank":330},{"rank":370},{"rank":400},{"rank":440},{"rank":480},{"rank":540},{"rank":600},{"rank":700},{"rank":800},{"rank":900},{"rank":1000},{"rank":1100},{"rank":1200},{"rank":1300},{"rank":1420},{"rank":1560},{"rank":1700},{"rank":1880},{"rank":2060},{"rank":2590},{"rank":2740},{"rank":3420},{"rank":5000},{"rank":5100},{"rank":6600},{"rank":8130},{"rank":8240},{"rank":8350},{"rank":8460},{"rank":8560},{"rank":8660},{"rank":9200},{"rank":10630},{"rank":11650},{"rank":11770},{"rank":13720},{"rank":14700},{"rank":15900},{"rank":17400},{"rank":17570},{"rank":19850},{"rank":20440},{"rank":20880},{"rank":21000},{"rank":21150},{"rank":21300},{"rank":21440},{"rank":21560},{"rank":21690},{"rank":21870},{"rank":22950},{"rank":24000}]},
      "mark": {"type": "rule", "color": "#3a3a3a", "strokeWidth": 1},
      "encoding": {"y": {"datum": 0, "type": "quantitative", "scale": {"domain": [0, 0.9], "nice": false}}, "y2": {"datum": 0.2}}},
     {"data": {"values": [{"rank":0,"es":0.053},{"rank":20,"es":0.08},{"rank":40,"es":0.11},{"rank":60,"es":0.14},{"rank":80,"es":0.17},{"rank":100,"es":0.2},{"rank":130,"es":0.24},{"rank":160,"es":0.28},{"rank":190,"es":0.32},{"rank":220,"es":0.36},{"rank":250,"es":0.4},{"rank":290,"es":0.43},{"rank":330,"es":0.47},{"rank":370,"es":0.5},{"rank":400,"es":0.53},{"rank":440,"es":0.56},{"rank":480,"es":0.59},{"rank":540,"es":0.62},{"rank":600,"es":0.64},{"rank":700,"es":0.66},{"rank":800,"es":0.678},{"rank":900,"es":0.69},{"rank":1000,"es":0.7},{"rank":1100,"es":0.71},{"rank":1200,"es":0.716},{"rank":1300,"es":0.725},{"rank":1420,"es":0.735},{"rank":1560,"es":0.745},{"rank":1700,"es":0.758},{"rank":1880,"es":0.767},{"rank":2060,"es":0.763},{"rank":2590,"es":0.752},{"rank":2740,"es":0.748},{"rank":3420,"es":0.728},{"rank":5000,"es":0.672},{"rank":5100,"es":0.669},{"rank":6600,"es":0.616},{"rank":8130,"es":0.556},{"rank":8240,"es":0.553},{"rank":8350,"es":0.55},{"rank":8460,"es":0.547},{"rank":8560,"es":0.544},{"rank":8660,"es":0.541},{"rank":9200,"es":0.521},{"rank":10630,"es":0.472},{"rank":11650,"es":0.43},{"rank":11770,"es":0.425},{"rank":13720,"es":0.339},{"rank":14700,"es":0.305},{"rank":15900,"es":0.254},{"rank":17400,"es":0.194},{"rank":17570,"es":0.19},{"rank":19850,"es":0.1},{"rank":20440,"es":0.076},{"rank":20880,"es":0.064},{"rank":21000,"es":0.063},{"rank":21150,"es":0.062},{"rank":21300,"es":0.062},{"rank":21440,"es":0.062},{"rank":21560,"es":0.063},{"rank":21690,"es":0.063},{"rank":21870,"es":0.06},{"rank":22950,"es":0.038},{"rank":24000,"es":0.002}]},
      "layer": [
       {"mark": {"type": "line", "color": "black", "strokeWidth": 2}},
       {"mark": {"type": "point", "shape": "diamond", "filled": true, "size": 14, "opacity": 1},
        "encoding": {"fill": {"datum": "Enrichment score", "type": "nominal", "scale": {"range": ["#c0504d"]}, "legend": {"title": null, "orient": "none", "legendX": 145, "legendY": 17, "symbolType": "M-1,0H-0.3L0,-0.3L0.3,0L0,0.3L-0.3,0ZM0.3,0H1", "symbolSize": 420, "symbolStrokeColor": "black", "symbolStrokeWidth": 1.6, "symbolFillColor": "#c0504d", "labelFontSize": 12, "labelExpr": "['Enrichment', 'score']", "labelOffset": 1}}}}
      ]},
     {"data": {"values": [{"rank": 13450, "es": 0.89, "t": "Oxidative phosporylation (KEGG)"}]},
      "mark": {"type": "text", "align": "center", "baseline": "middle", "fontSize": 13.5, "fontWeight": "bold"},
      "encoding": {"y": {"field": "es", "type": "quantitative", "scale": {"domain": [0, 0.9], "nice": false}}, "text": {"field": "t"}}},
     {"data": {"values": [{"rank": 200, "es": -0.127, "t": "< Up in cPGI2"}]},
      "mark": {"type": "text", "align": "left", "baseline": "middle", "fontSize": 12},
      "encoding": {"y": {"field": "es", "type": "quantitative", "scale": {"domain": [0, 0.9], "nice": false}}, "text": {"field": "t"}}},
     {"data": {"values": [{"rank": 25000, "es": -0.127, "t": "Up in Control >"}]},
      "mark": {"type": "text", "align": "right", "baseline": "middle", "fontSize": 12},
      "encoding": {"y": {"field": "es", "type": "quantitative", "scale": {"domain": [0, 0.9], "nice": false}}, "text": {"field": "t"}}},
     {"data": {"values": [{"rank": -6330, "es": 0.928, "t": "D"}]},
      "mark": {"type": "text", "align": "left", "baseline": "middle", "fontSize": 12, "fontWeight": "bold"},
      "encoding": {"y": {"field": "es", "type": "quantitative", "scale": {"domain": [0, 0.9], "nice": false}}, "text": {"field": "t"}}}
    ]},
   {"width": 333, "height": 160,
    "layer": [
     {"layer": [
       {"data": {"name": "g"}, "mark": {"type": "bar", "stroke": "black", "strokeWidth": 1},
        "encoding": {
         "x": {"field": "gene", "type": "nominal", "scale": {"domain": ["Tnfrsf9 (CD137)", "Tbx1", "Hoxc9", "Slc36a2 (PAT2)", "Ebf3", "Lhx8", "Zic1"], "paddingInner": 0.26, "paddingOuter": 0.13}, "axis": {"title": null, "labelAngle": 0, "labelFontSize": 12.5, "labelFontWeight": "bold", "labelFontStyle": "italic", "labelExpr": "split(datum.label, ' ')", "labelLineHeight": 15, "labelBaseline": "top", "tickBand": "extent", "tickSize": 5, "labelPadding": 3}},
         "xOffset": {"field": "grp", "type": "nominal", "scale": {"domain": ["Control", "cPGI2", "BAT"]}},
         "y": {"field": "val", "type": "quantitative", "scale": {"domain": [0, 7], "nice": false}, "axis": {"values": [0, 1, 2, 3, 4, 5, 6, 7], "title": "Relative mRNA levels", "titleFontSize": 9.5, "labelFontSize": 11, "titleX": -22, "titleY": 80}},
         "fill": {"field": "grp", "type": "nominal", "scale": {"domain": ["Control", "cPGI2", "BAT"], "range": ["white", "black", "#8c8c8c"]}, "legend": {"title": null, "orient": "none", "legendX": 12, "legendY": 3, "symbolType": "square", "symbolSize": 70, "symbolStrokeColor": "black", "symbolStrokeWidth": 1, "labelFontSize": 12.5, "rowPadding": 0, "labelOffset": 2}}}},
       {"data": {"name": "g"}, "mark": {"type": "rule", "color": "black", "strokeWidth": 1},
        "encoding": {
         "x": {"field": "gene", "type": "nominal", "scale": {"domain": ["Tnfrsf9 (CD137)", "Tbx1", "Hoxc9", "Slc36a2 (PAT2)", "Ebf3", "Lhx8", "Zic1"], "paddingInner": 0.26, "paddingOuter": 0.13}, "axis": {"title": null, "labelAngle": 0, "labelFontSize": 12.5, "labelFontWeight": "bold", "labelFontStyle": "italic", "labelExpr": "split(datum.label, ' ')", "labelLineHeight": 15, "labelBaseline": "top", "tickBand": "extent", "tickSize": 5, "labelPadding": 3}},
         "xOffset": {"field": "grp", "type": "nominal", "scale": {"domain": ["Control", "cPGI2", "BAT"]}},
         "y": {"field": "val", "type": "quantitative", "scale": {"domain": [0, 7], "nice": false}, "axis": {"values": [0, 1, 2, 3, 4, 5, 6, 7], "title": "Relative mRNA levels", "titleFontSize": 9.5, "labelFontSize": 11, "titleX": -22, "titleY": 80}},
         "y2": {"field": "hi"}}},
       {"data": {"name": "g"}, "mark": {"type": "tick", "color": "black", "thickness": 1, "size": 5},
        "encoding": {
         "x": {"field": "gene", "type": "nominal", "scale": {"domain": ["Tnfrsf9 (CD137)", "Tbx1", "Hoxc9", "Slc36a2 (PAT2)", "Ebf3", "Lhx8", "Zic1"], "paddingInner": 0.26, "paddingOuter": 0.13}, "axis": {"title": null, "labelAngle": 0, "labelFontSize": 12.5, "labelFontWeight": "bold", "labelFontStyle": "italic", "labelExpr": "split(datum.label, ' ')", "labelLineHeight": 15, "labelBaseline": "top", "tickBand": "extent", "tickSize": 5, "labelPadding": 3}},
         "xOffset": {"field": "grp", "type": "nominal", "scale": {"domain": ["Control", "cPGI2", "BAT"]}},
         "y": {"field": "hi", "type": "quantitative", "scale": {"domain": [0, 7], "nice": false}, "axis": {"values": [0, 1, 2, 3, 4, 5, 6, 7], "title": "Relative mRNA levels", "titleFontSize": 9.5, "labelFontSize": 11, "titleX": -22, "titleY": 80}}}},
       {"data": {"values": [{"gene": "Tnfrsf9 (CD137)", "grp": "cPGI2", "y": 1.75, "t": "*"}, {"gene": "Slc36a2 (PAT2)", "grp": "cPGI2", "y": 1.55, "t": "*"}, {"gene": "Ebf3", "grp": "cPGI2", "y": 1.38, "t": "*"}]},
        "mark": {"type": "text", "align": "center", "baseline": "middle", "fontSize": 14},
        "encoding": {
         "x": {"field": "gene", "type": "nominal", "scale": {"domain": ["Tnfrsf9 (CD137)", "Tbx1", "Hoxc9", "Slc36a2 (PAT2)", "Ebf3", "Lhx8", "Zic1"], "paddingInner": 0.26, "paddingOuter": 0.13}, "axis": {"title": null, "labelAngle": 0, "labelFontSize": 12.5, "labelFontWeight": "bold", "labelFontStyle": "italic", "labelExpr": "split(datum.label, ' ')", "labelLineHeight": 15, "labelBaseline": "top", "tickBand": "extent", "tickSize": 5, "labelPadding": 3}},
         "xOffset": {"field": "grp", "type": "nominal", "scale": {"domain": ["Control", "cPGI2", "BAT"]}},
         "y": {"field": "y", "type": "quantitative", "scale": {"domain": [0, 7], "nice": false}, "axis": {"values": [0, 1, 2, 3, 4, 5, 6, 7], "title": "Relative mRNA levels", "titleFontSize": 9.5, "labelFontSize": 11, "titleX": -22, "titleY": 80}},
         "text": {"field": "t"}}}
      ]},
     {"layer": [
       {"data": {"values": [{"p1": 0.02, "p2": 3.86, "y": -1.79}, {"p1": 4.25, "p2": 6.95, "y": -1.79}]},
        "mark": {"type": "rule", "color": "black", "strokeWidth": 1},
        "encoding": {"x": {"field": "p1", "type": "quantitative", "scale": {"domain": [0, 7], "nice": false}, "axis": null}, "x2": {"field": "p2"}, "y": {"field": "y", "type": "quantitative", "scale": {"domain": [0, 7], "nice": false}, "axis": {"values": [0, 1, 2, 3, 4, 5, 6, 7], "title": "Relative mRNA levels", "titleFontSize": 9.5, "labelFontSize": 11, "titleX": -22, "titleY": 80}}}},
       {"data": {"values": [{"p1": 1.92, "y": -2.42, "t": "Beige-selective"}, {"p1": 5.6, "y": -2.42, "t": "Brown-selective"}]},
        "mark": {"type": "text", "align": "center", "baseline": "middle", "fontSize": 14},
        "encoding": {"x": {"field": "p1", "type": "quantitative", "scale": {"domain": [0, 7], "nice": false}, "axis": null}, "y": {"field": "y", "type": "quantitative", "scale": {"domain": [0, 7], "nice": false}, "axis": {"values": [0, 1, 2, 3, 4, 5, 6, 7], "title": "Relative mRNA levels", "titleFontSize": 9.5, "labelFontSize": 11, "titleX": -22, "titleY": 80}}, "text": {"field": "t"}}},
       {"data": {"values": [{"p1": -0.505, "y": 6.87, "t": "G"}]},
        "mark": {"type": "text", "align": "left", "baseline": "middle", "fontSize": 12, "fontWeight": "bold"},
        "encoding": {"x": {"field": "p1", "type": "quantitative", "scale": {"domain": [0, 7], "nice": false}, "axis": null}, "y": {"field": "y", "type": "quantitative", "scale": {"domain": [0, 7], "nice": false}, "axis": {"values": [0, 1, 2, 3, 4, 5, 6, 7], "title": "Relative mRNA levels", "titleFontSize": 9.5, "labelFontSize": 11, "titleX": -22, "titleY": 80}}, "text": {"field": "t"}}}
     ]}
    ],
    "resolve": {"scale": {"x": "independent"}}}
  ], "spacing": 62, "resolve": {"scale": {"fill": "independent"}}}
 ], "spacing": 28, "resolve": {"scale": {"fill": "independent"}}}
], "spacing": 17, "resolve": {"scale": {"fill": "independent"}}
}
